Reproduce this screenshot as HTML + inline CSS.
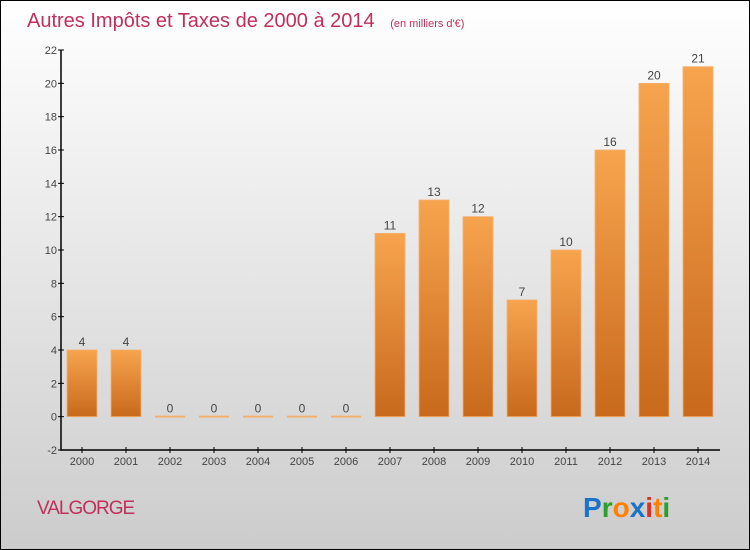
<!DOCTYPE html>
<html><head><meta charset="utf-8"><style>
body{margin:0;width:750px;height:550px;overflow:hidden}
svg{display:block}
text{font-family:"Liberation Sans",sans-serif}
</style></head><body>
<svg width="750" height="550">
<defs>
<linearGradient id="bg" x1="0" y1="0" x2="0" y2="1"><stop offset="0" stop-color="#ffffff"/><stop offset="1" stop-color="#cccccc"/></linearGradient>
<linearGradient id="bar" x1="0" y1="0" x2="0" y2="1"><stop offset="0" stop-color="#f7a44e"/><stop offset="1" stop-color="#c8691c"/></linearGradient>
</defs>
<rect x="0.5" y="0.5" width="749" height="549" fill="url(#bg)" stroke="#000"/>
<text x="27" y="27" font-size="20" fill="#c0305a">Autres Impôts et Taxes de 2000 à 2014 <tspan font-size="11" dx="10">(en milliers d'€)</tspan></text>
<g id="plot"></g>
<text x="37" y="514" font-size="19" fill="#c0305a" letter-spacing="-1">VALGORGE</text>
<text x="583" y="517" font-size="28" font-weight="bold"><tspan fill="#1a73c8">P</tspan><tspan fill="#2ca02c">r</tspan><tspan fill="#ff8000">o</tspan><tspan fill="#1a73c8">x</tspan><tspan fill="#e03020">i</tspan><tspan fill="#ff8000">t</tspan><tspan fill="#2ca02c">i</tspan></text>
</svg>
<script>
const years=["2000","2001","2002","2003","2004","2005","2006","2007","2008","2009","2010","2011","2012","2013","2014"];
const values=[4,4,0,0,0,0,0,11,13,12,7,10,16,20,21];
const yTicks=[-2,0,2,4,6,8,10,12,14,16,18,20,22];
const NS="http://www.w3.org/2000/svg";
const g=document.getElementById('plot');
const y=v=>450-(v+2)*400/24;
const x=i=>82+i*44;
function mk(t,a){const e=document.createElementNS(NS,t);for(const k in a)e.setAttribute(k,a[k]);g.appendChild(e);return e;}
let ax=mk('path',{d:'M61,50V450H720',stroke:'#000',fill:'none','stroke-width':1.5});


yTicks.forEach(v=>{
 const l=mk('line',{x1:58,x2:64,y1:y(v),y2:y(v),stroke:'#000'});
 
 
 const t=mk('text',{x:57,y:y(v)+4,'font-size':11,fill:'#444','text-anchor':'end'});t.textContent=v;
 
 
});
years.forEach((yr,i)=>{
 const v=values[i];
 const l=mk('line',{x1:x(i),x2:x(i),y1:447,y2:453,stroke:'#000'});
 
 
 const t=mk('text',{x:x(i),y:465,'font-size':11,fill:'#444','text-anchor':'middle'});t.textContent=yr;
 
 
 let b;
 if(v>0){b=mk('rect',{x:x(i)-15,y:y(v),width:30,height:y(0)-y(v),fill:'url(#bar)',stroke:'#f4b070','stroke-width':0.8});}
 else{b=mk('rect',{x:x(i)-15,y:y(0)-1,width:30,height:2,fill:'#f0b070'});}
 
 
 const vl=mk('text',{x:x(i),y:y(v)-4,'font-size':12,fill:'#444','text-anchor':'middle'});vl.textContent=v;
 
 
});
</script>
</body></html>
